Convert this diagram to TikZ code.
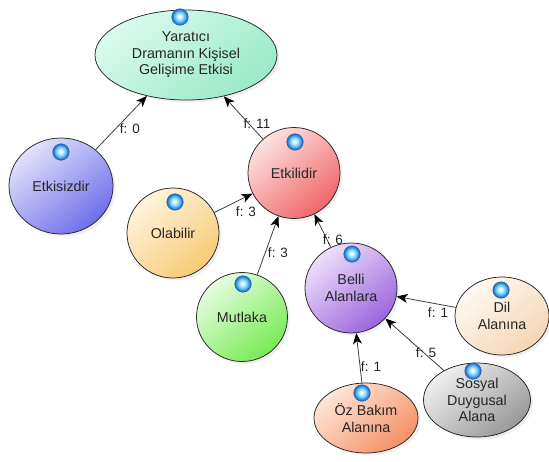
\documentclass[tikz,border=0pt]{standalone}
\usepackage{fontspec}
\setmainfont{Liberation Sans}
\usetikzlibrary{shapes.geometric,arrows.meta,shadows}

% colours of the little blue orbs
\definecolor{orbA}{HTML}{CDF3FF}
\definecolor{orbB}{HTML}{74CBF6}
\definecolor{orbC}{HTML}{2F8EE0}
\definecolor{orbD}{HTML}{1F5FB6}
\pgfdeclareradialshading{orb}{\pgfpoint{-2bp}{2bp}}{%
  color(0bp)=(white); color(6bp)=(orbA); color(14bp)=(orbB);
  color(20bp)=(orbC); color(25bp)=(orbD); color(50bp)=(orbD)}

% bubble fills: light and dark end of each gradient
\definecolor{topL}{HTML}{D9FBEE}\definecolor{topD}{HTML}{9AEAC8}
\definecolor{sizL}{HTML}{E2E2FC}\definecolor{sizD}{HTML}{6E6EEA}
\definecolor{iliL}{HTML}{FDE2E2}\definecolor{iliD}{HTML}{F06666}
\definecolor{olaL}{HTML}{FFF4DE}\definecolor{olaD}{HTML}{F8CA74}
\definecolor{mutL}{HTML}{E6FDE0}\definecolor{mutD}{HTML}{78EA54}
\definecolor{belL}{HTML}{EEE0FA}\definecolor{belD}{HTML}{9C64DE}
\definecolor{dilL}{HTML}{FFFAF2}\definecolor{dilD}{HTML}{F5D5B4}
\definecolor{sosL}{HTML}{F0F0F0}\definecolor{sosD}{HTML}{989898}
\definecolor{ozbL}{HTML}{FFE6D8}\definecolor{ozbD}{HTML}{F49066}

\tikzset{
  bub/.style={ellipse, draw=black!85, line width=0.75pt, inner sep=0pt,
    align=center, text=black!85,
    font=\fontsize{14.3}{16.5}\selectfont,
    drop shadow={opacity=0.12, shadow xshift=2.5pt, shadow yshift=-2.5pt}},
  tilt/.style={shading angle=40},
  orbnode/.style={circle, minimum size=16.5pt, inner sep=0pt, shading=orb,
    draw=orbD, line width=0.5pt},
  link/.style={draw=black!75, line width=0.8pt,
    -{Stealth[length=11pt,width=9pt,inset=3pt,color=black]}},
  flabel/.style={font=\fontsize{13.5}{15}\selectfont, text=black!85, inner sep=1pt},
}

\begin{document}
\begin{tikzpicture}[x=1pt, y=-1pt]
\useasboundingbox (0,0) rectangle (549,461);
\fill[white] (0,0) rectangle (549,461);

% bubbles
\node[bub, top color=topL, bottom color=topD, tilt, minimum width=182pt, minimum height=90pt]
  (top) at (186,55) {Yaratıcı\\Dramanın Kişisel\\Gelişime Etkisi};
\node[bub, top color=sizL, bottom color=sizD, tilt, minimum width=104pt, minimum height=96pt]
  (etkisiz) at (61,186) {\raisebox{-5pt}{Etkisizdir}};
\node[bub, top color=iliL, bottom color=iliD, tilt, minimum width=92pt, minimum height=91pt]
  (etkili) at (294,173) {Etkilidir};
\node[bub, top color=olaL, bottom color=olaD, tilt, minimum width=92pt, minimum height=90pt]
  (olabilir) at (173,233) {Olabilir};
\node[bub, top color=mutL, bottom color=mutD, tilt, minimum width=91pt, minimum height=89pt]
  (mutlaka) at (242,317) {\raisebox{-5pt}{Mutlaka}};
\node[bub, top color=belL, bottom color=belD, tilt, minimum width=92pt, minimum height=90pt]
  (belli) at (351,288) {Belli\\Alanlara};
\node[bub, top color=dilL, bottom color=dilD, tilt, minimum width=94pt, minimum height=78pt]
  (dil) at (502,316) {Dil\\Alanına};
\node[bub, top color=sosL, bottom color=sosD, tilt, minimum width=107pt, minimum height=74pt]
  (sosyal) at (477,400) {Sosyal\\Duygusal\\Alana};
\node[bub, top color=ozbL, bottom color=ozbD, tilt, minimum width=104pt, minimum height=70pt]
  (ozbakim) at (366,418) {Öz Bakım\\Alanına};

% connectors
\draw[link] (etkisiz) -- (top);
\draw[link] (etkili) -- (top);
\draw[link] (olabilir) -- (etkili);
\draw[link] (mutlaka) -- (etkili);
\draw[link] (belli) -- (etkili);
\draw[link] (dil) -- (belli);
\draw[link] (sosyal) -- (belli);
\draw[link] (ozbakim) -- (belli);

% connector labels
\node[flabel] (l0)  at (130,129) {f: 0};
\node[flabel] (l11) at (257,124) {f: 11};
\node[flabel] (l3a) at (246,212) {f: 3};
\node[flabel] (l3b) at (278,253) {f: 3};
\node[flabel] (l6)  at (333,240) {f: 6};
\node[flabel] (l1a) at (438,313) {f: 1};
\node[flabel] (l5)  at (426,353) {f: 5};
\node[flabel] (l1b) at (371,367) {f: 1};

% orbs on the bubbles
\node[orbnode] (o1) at (180,17)  {};
\node[orbnode] (o2) at (61,152)  {};
\node[orbnode] (o3) at (295,142) {};
\node[orbnode] (o4) at (175,202) {};
\node[orbnode] (o5) at (243,284) {};
\node[orbnode] (o6) at (352,254) {};
\node[orbnode] (o7) at (501,290) {};
\node[orbnode] (o8) at (473,371) {};
\node[orbnode] (o9) at (362,393) {};
\end{tikzpicture}
\end{document}
